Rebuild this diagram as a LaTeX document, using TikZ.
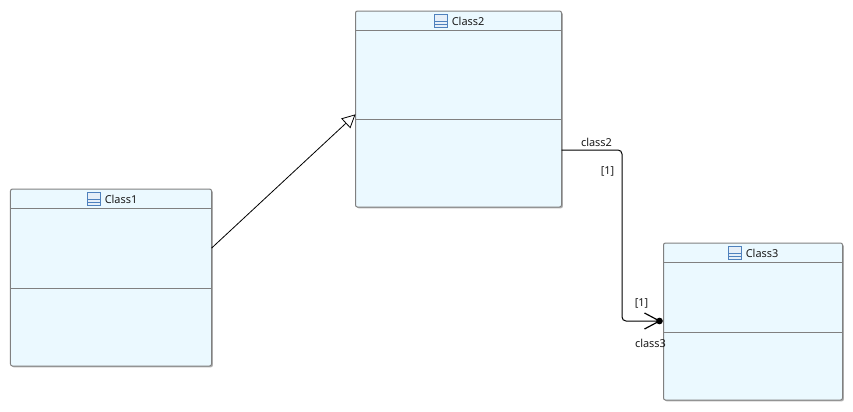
\documentclass[tikz,border=0pt]{standalone}
\usepackage{fontspec}
\setmainfont{Noto Sans}
\usetikzlibrary{calc, arrows.meta, positioning, shadows}
\definecolor{boxFill}{HTML}{EBF9FF}
\definecolor{boxLine}{HTML}{808080}
\definecolor{iconLine}{HTML}{4F81BD}
\definecolor{iconFill}{HTML}{E6EFF8}
\tikzset{
    classbox/.style={draw=boxLine, fill=boxFill, line width=0.75pt, rounded corners=1.5pt, inner sep=0pt, outer sep=0pt,
        drop shadow={shadow xshift=1pt, shadow yshift=-1pt, fill=black!30, opacity=1}},
    classline/.style={draw=boxLine, line width=0.75pt},
    icon/.style={draw=iconLine, line width=0.6pt},
    umltext/.style={font=\fontsize{8.2}{10}\selectfont, inner sep=0pt, text=black!90},
    assoc/.style={draw=black, line width=0.75pt}
}

\begin{document}
\begin{tikzpicture}[x=0.75pt, y=-0.75pt, >=stealth]
    \useasboundingbox (0.5, 0) rectangle (853.5, 411);

    % name / left, top, right, bottom / header line, divider / text start
    \foreach \cname/\lx/\ty/\rx/\by/\hy/\dy/\tx in {
        Class1/11/189/212/366/208/288/105,
        Class2/356/11/562/207/30/119/452,
        Class3/664/243/843/400/262/332/746} {
        \node[classbox, minimum width={(\rx-\lx)*0.75pt}, minimum height={(\by-\ty)*0.75pt}]
            (\cname) at ({(\lx+\rx)/2}, {(\ty+\by)/2}) {};
        \draw[classline] (\lx, \hy) -- (\rx, \hy);
        \draw[classline] (\lx, \dy) -- (\rx, \dy);
        \node[umltext, anchor=west] (\cname title) at (\tx, {\ty+10}) {\cname};
        % small class icon left of the title
        \draw[icon, fill=iconFill] ({\tx-17}, {\ty+3}) rectangle ({\tx-4}, {\ty+16});
        \draw[icon] ({\tx-17}, {\ty+10}) -- ({\tx-4}, {\ty+10});
        \draw[icon] ({\tx-17}, {\ty+13}) -- ({\tx-4}, {\ty+13});
    }

    % inheritance
    \draw[-{Triangle[open, fill=white, length=10pt, width=10pt]}, black, line width=0.6pt]
        ([yshift=22pt]Class1.east) -- ([yshift=-4pt]Class2.west);

    % association
    \coordinate (bend1) at (622.5, 150);
    \coordinate (bend2) at (622.5, 321);
    \coordinate (end3) at (660, 321);
    \draw[assoc, rounded corners=3pt] (Class2.east |- bend1) -- (bend1) -- (bend2) -- (end3);
    \draw[assoc, line width=0.9pt] (645, 313) -- (end3) -- (645, 329);
    \fill (end3) circle (2.5pt);

    \node[umltext] (role2) at (597, 142) {class2};
    \node[umltext] (mult2) at (608, 171) {[1]};
    \node[umltext] (mult3) at (642, 303) {[1]};
    \node[umltext] (role3) at (651, 343) {class3};
\end{tikzpicture}
\end{document}
